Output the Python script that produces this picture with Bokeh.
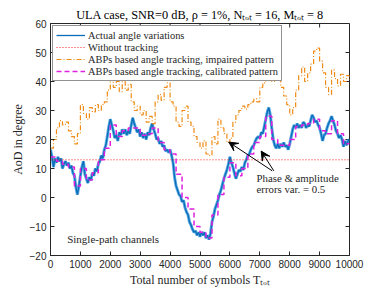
import math
from bokeh.plotting import figure
from bokeh.models import (Range1d, Legend, LegendItem, Label, Arrow,
                          VeeHead, FixedTicker)
from bokeh.embed import file_html
from bokeh.resources import INLINE

# ---------------- data ----------------
T_actual = list(range(0, 10001, 50))
actual = [16.5, 14, 10.5, 13.5, 12, 14, 12.5, 13.5, 10, 11.5,
          12.5, 11, 12, 10, 11, 8.5, 7.5, 3.5, 1, 4,
          7.5, 10.5, 12.5, 8, 6.5, 5, 7, 6, 8.5, 7.5,
          10, 9, 11.5, 12.5, 14.5, 13.5, 16.5, 18, 21, 24.5,
          27, 25, 23, 20.5, 21.5, 19.5, 22.5, 21.5, 23.5, 22,
          23.5, 21.5, 23, 22, 25, 27.5, 25.5, 24, 22.5, 23.5,
          21, 22.5, 20.5, 22, 20, 22.5, 21.5, 24, 25.5, 23.5,
          22, 20, 20.5, 18.5, 19.5, 17.5, 18, 16, 16.5, 15.5,
          16.5, 14.5, 12, 7, 4, 2.5, 1, 0.5, -1.5, -1,
          -3.5, -5, -6, -8.5, -9.5, -11, -12, -11.5, -13, -12,
          -13.5, -12, -13, -12, -14, -13, -14.5, -12.5, -8.5, -6.5,
          -4, -2.5, -1, 1, 2.5, 4.5, 6.5, 8, 9.5, 11.5,
          14, 12, 10.5, 8.5, 6.5, 8, 9.5, 9, 10.5, 9.5,
          12, 13, 14.5, 15, 16.5, 17.5, 18, 19.5, 20.5, 21,
          20.5, 22.5, 22, 24.5, 27, 29.5, 31, 28.5, 24, 20,
          18, 17, 18.5, 17, 18.5, 17.5, 19, 17.5, 18, 16.5,
          18.5, 21, 23.5, 25, 24, 25.5, 24, 25, 24, 26,
          25.5, 24, 25, 24.5, 26.5, 28.5, 27.5, 26, 26.5, 25,
          24, 22, 19.5, 21.5, 22, 24, 25.5, 26.5, 28, 26.5,
          25, 23, 22, 20.5, 21.5, 20, 17.5, 19.5, 18, 19.5,
          20]

T_cal = list(range(0, 10001, 200))
calibrated = [14, 12.5, 11.5, 10.5, 4, 10, 6, 8.5, 13, 17,
              25, 21, 23, 24, 24, 21.5, 22, 24, 19, 16.5,
              15, 8, 0, -4, -10, -12, -14, -6, 1, 7,
              12, 7.5, 10, 15, 19, 21, 28, 20, 18, 18,
              20, 24.5, 25, 25.5, 27, 23, 22, 26.5, 22, 18.5,
              19]

T_imp = list(range(0, 10001, 100))
impaired = [17, 20, 24, 26.5, 25, 26, 23, 21, 18.5, 22,
            32, 29, 27, 31, 29.5, 32, 30, 32, 33, 37,
            41, 38, 40, 36.5, 40, 37, 39, 33, 30, 31.5,
            28.5, 30, 26, 28, 25.5, 33, 35.5, 33.5, 38, 39.5,
            33, 31.5, 26, 24.5, 30, 31.5, 26, 24.5, 21, 19,
            17, 19.5, 15, 14.5, 21, 18.5, 27, 24, 22, 19,
            20.5, 26, 28.5, 30, 31.5, 30.5, 32, 33, 34, 33,
            38, 39.5, 40.5, 41.5, 40, 42, 43.5, 38, 35, 32,
            28.5, 31, 37, 42, 45, 40, 43, 46, 50.5, 51.5,
            47, 43, 38, 35.5, 44, 41, 38.5, 42.5, 40, 42,
            40.5]

T_without = [0, 10000]
without = [13, 13]

x_ticks = [0, 1000, 2000, 3000, 4000, 5000, 6000, 7000, 8000, 9000, 10000]
y_ticks = [-20, -10, 0, 10, 20, 30, 40, 50, 60]
x_lim = [0, 10000]
y_lim = [-20, 60]

arrow_tail_x = [7415, 7468]
arrow_tail_y = [9.2, 9.2]
arrow_head_x = [5963, 7047]
arrow_head_y = [19.1, 16.0]

# ---------------- figure ----------------
SERIF = "Liberation Serif"
SANS = "Liberation Sans"
AX = "#262626"

p = figure(width=385, height=289, output_backend="svg", toolbar_location=None,
           x_range=Range1d(x_lim[0], x_lim[1]), y_range=Range1d(y_lim[0], y_lim[1]),
           min_border_left=50, min_border_right=36, min_border_top=23,
           min_border_bottom=32)

p.title.text = "ULA case, SNR=0 dB, \u03c1 = 1%, N\u209c\u2092\u209c = 16, M\u209c\u2092\u209c = 8"
p.title.align = "center"
p.title.text_font = SERIF
p.title.text_font_size = "12.3px"
p.title.text_font_style = "normal"
p.title.text_color = "black"
p.title.standoff = 3

p.xgrid.grid_line_color = None
p.ygrid.grid_line_color = None
p.outline_line_color = AX
p.outline_line_width = 1
p.background_fill_color = "white"
p.border_fill_color = "white"

p.xaxis.ticker = FixedTicker(ticks=x_ticks)
p.yaxis.ticker = FixedTicker(ticks=y_ticks)
p.xaxis.axis_label = "Total number of symbols T\u209c\u2092\u209c"
p.yaxis.axis_label = "AoD in degree"

for ax in [p.xaxis, p.yaxis]:
    ax.major_tick_in = 4
    ax.major_tick_out = 0
    ax.minor_tick_in = 0
    ax.minor_tick_out = 0
    ax.axis_line_color = AX
    ax.major_tick_line_color = AX
    ax.major_label_text_font = SANS
    ax.major_label_text_color = AX
    ax.major_label_text_font_size = "10px"
    ax.major_label_standoff = 4
    ax.axis_label_text_font = SERIF
    ax.axis_label_text_font_style = "normal"
    ax.axis_label_text_color = AX
    ax.axis_label_text_font_size = "12px"
    ax.axis_label_standoff = 2

# ticks on the top and right edges of the box (pointing inward)
p.ray(x=x_ticks, y=[y_lim[1]] * len(x_ticks), length=4, length_units="screen",
      angle=-math.pi / 2, line_color=AX, line_width=1)
p.ray(x=[x_lim[1]] * len(y_ticks), y=y_ticks, length=4, length_units="screen",
      angle=math.pi, line_color=AX, line_width=1)

# ---------------- series ----------------
r_halo = p.line(T_actual, actual, line_color="#3c9be0", line_width=3.0, line_alpha=0.85)
r_act = p.line(T_actual, actual, line_color="#0a6db8", line_width=1.3)
r_wo = p.line(T_without, without, line_color="#ff2020", line_width=1, line_dash="1 2")
r_imp = p.step(T_imp, impaired, mode="after", line_color="#ef8a14", line_width=1.2,
               line_dash="5 2 1 2")
r_cal = p.step(T_cal, calibrated, mode="after", line_color="#e020e0", line_width=1.5,
               line_dash="5 3")

legend = Legend(items=[
    LegendItem(label="Actual angle variations", renderers=[r_act]),
    LegendItem(label="Without tracking", renderers=[r_wo]),
    LegendItem(label="ABPs based angle tracking, impaired pattern", renderers=[r_imp]),
    LegendItem(label="ABPs based angle tracking, calibrated pattern", renderers=[r_cal]),
], location="top_left")
legend.label_text_font = SERIF
legend.label_text_font_size = "10.4px"
legend.label_text_color = AX
legend.glyph_width = 29
legend.glyph_height = 12
legend.label_height = 12
legend.spacing = 0
legend.padding = 3
legend.margin = 2
legend.label_standoff = 3
legend.border_line_color = AX
legend.border_line_width = 1
legend.background_fill_alpha = 1
p.add_layout(legend)

# ---------------- annotations ----------------
p.add_layout(Label(x=558, y=-14.4, text="Single-path channels", text_font=SERIF,
                   text_font_size="11px", text_baseline="middle", text_color=AX))
p.add_layout(Label(x=6890, y=6.6, text="Phase & amplitude", text_font=SERIF,
                   text_font_size="10.8px", text_baseline="middle", text_color=AX))
p.add_layout(Label(x=6890, y=2.9, text="errors var. = 0.5", text_font=SERIF,
                   text_font_size="10.8px", text_baseline="middle", text_color=AX))

for i in range(2):
    p.add_layout(Arrow(end=VeeHead(size=9, fill_color="black", line_color="black"),
                       x_start=arrow_tail_x[i], y_start=arrow_tail_y[i],
                       x_end=arrow_head_x[i], y_end=arrow_head_y[i],
                       line_color="black", line_width=1))

open("out.html", "w").write(file_html(p, INLINE))
